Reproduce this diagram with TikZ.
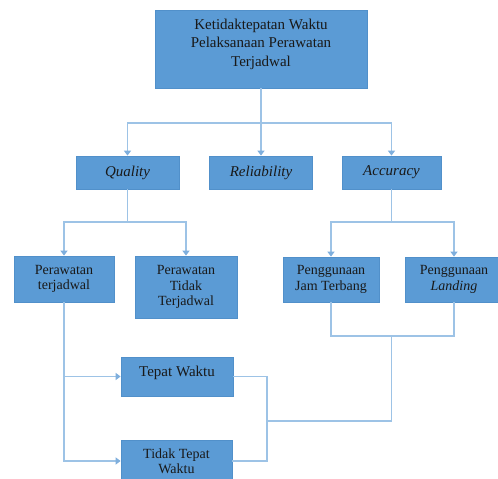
\documentclass[tikz,border=0pt]{standalone}
\usepackage{fontspec}
\setmainfont{Liberation Serif}
\usetikzlibrary{arrows.meta}
\definecolor{boxfill}{HTML}{5B9BD5}
\definecolor{boxline}{HTML}{5190CA}
\definecolor{conn}{HTML}{9DC3E6}
\definecolor{tip}{HTML}{7FAFDD}
\tikzset{
  box/.style={rectangle, fill=boxfill, draw=boxline, line width=0.8pt, align=center,
    inner sep=1pt, text=black!90, font=\fontsize{15}{18.5}\selectfont},
  smallbox/.style={box, font=\fontsize{14}{15.5}\selectfont},
  line/.style={draw=conn, line width=1.4pt},
  arr/.style={line, -{Triangle[width=7pt,length=5pt,color=tip]}}
}
\begin{document}
\begin{tikzpicture}[x=1pt,y=-1pt]
\clip (0,0) rectangle (498,479);
\fill[white] (0,0) rectangle (498,479);

\node[box, minimum width=212pt, minimum height=78pt] (top) at (261,49)
  {\raisebox{5pt}[\height][\depth]{\begin{tabular}{@{}c@{}}Ketidaktepatan Waktu\\Pelaksanaan Perawatan\\Terjadwal\end{tabular}}};

\node[box, minimum width=103pt, minimum height=33pt] (quality) at (127.5,172.5) {\itshape Quality};
\node[box, minimum width=103pt, minimum height=33pt] (reliability) at (261,172.5) {\itshape Reliability};
\node[box, minimum width=99pt, minimum height=33pt] (accuracy) at (391.5,172.5) {\itshape Accuracy};

\node[smallbox, minimum width=100pt, minimum height=46pt] (pt) at (64,279) {Perawatan\\terjadwal};
\node[smallbox, minimum width=102pt, minimum height=62pt] (ptt) at (186,287) {Perawatan\\Tidak\\Terjadwal};
\node[smallbox, minimum width=96pt, minimum height=45pt] (pj) at (331,279.5) {Penggunaan\\Jam Terbang};
\node[smallbox, minimum width=98pt, minimum height=45pt] (pl) at (454,279.5) {Penggunaan\\\itshape Landing};

\node[box, minimum width=112pt, minimum height=39pt] (tw) at (177,376.5)
  {\raisebox{4pt}[\height][\depth]{Tepat Waktu}};
\node[smallbox, minimum width=111pt, minimum height=42pt] (ttw) at (176.5,461) {Tidak Tepat\\Waktu};

% connectors
\coordinate (h1) at (261,123);
\coordinate (h2) at (127.5,222);
\coordinate (h3) at (391.5,222);
\coordinate (m1) at (391.5,336);
\coordinate (m2) at (267,421);

\draw[line] (top.south) -- (h1);
\draw[arr] (h1) -| (quality.north);
\draw[arr] (h1) -- (reliability.north);
\draw[arr] (h1) -| (accuracy.north);

\draw[line] (quality.south) -- (h2);
\draw[arr] (h2) -| (pt.north);
\draw[arr] (h2) -| (ptt.north);

\draw[line] (accuracy.south) -- (h3);
\draw[arr] (h3) -| (pj.north);
\draw[arr] (h3) -| (pl.north);

\draw[line] (pj.south) |- (m1) -| (pl.south);
\draw[line] (m1) |- (m2);
\draw[line] (tw.east) -| (m2) |- (ttw.east);

\draw[arr] (pt.south) |- (tw.west);
\draw[arr] (pt.south) |- (ttw.west);
\end{tikzpicture}
\end{document}
